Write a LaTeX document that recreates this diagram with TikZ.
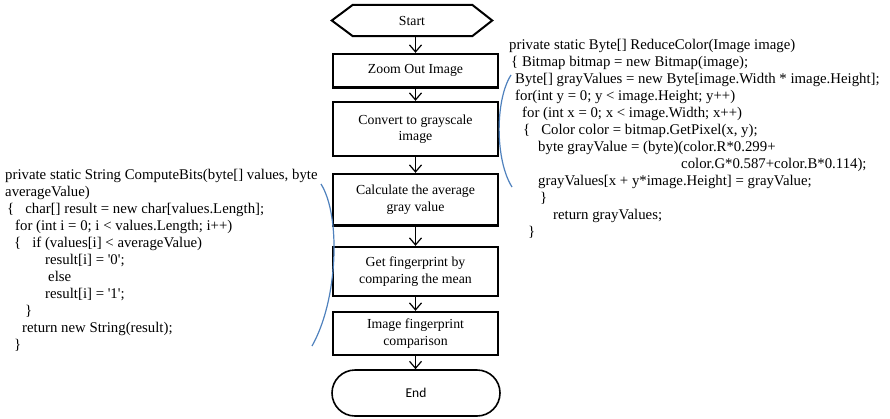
\documentclass[tikz,border=0pt]{standalone}
\usepackage{fontspec}
\setmainfont{Liberation Serif}
\newfontfamily\calibrifont{Carlito}
\usetikzlibrary{arrows.meta,shapes.misc}
\definecolor{bracketblue}{RGB}{79,129,189}
\newcommand\boxfont{\fontsize{13.8}{16.5}\selectfont}
\newcommand\codefont{\fontsize{14.8}{17}\selectfont}
\newcommand\sq{\textquotesingle}
\begin{document}
\begin{tikzpicture}[x=1pt,y=-1pt,
  stepbox/.style={draw, line width=2.4pt, minimum width=165pt, align=center,
                  font=\boxfont, inner sep=0pt},
  codeline/.style={anchor=base west, inner sep=0pt, font=\codefont},
  flow/.style={-{Straight Barb[length=7pt,width=12pt]}, line width=1.2pt},
  bracket/.style={draw=bracketblue, line width=1.2pt}]
\useasboundingbox (0,0) rectangle (890,418);

% start terminal (hexagon drawn around an invisible node)
\node[minimum width=160pt, minimum height=31pt, inner sep=0pt,
      font=\fontsize{13.8}{16}\selectfont] (start) at (412,20.5) {Start};
\draw[line width=2pt, line join=miter]
  (start.west) -- ([xshift=21pt]start.north west) -- ([xshift=-20pt]start.north east)
  -- (start.east) -- ([xshift=-20pt]start.south east) -- ([xshift=21pt]start.south west) -- cycle;

% process steps
\node[stepbox, minimum height=33.5pt] (zoom) at (415.5,70.75) {Zoom Out Image};
\node[stepbox, minimum height=54pt] (gray) at (415.5,129) {Convert to grayscale\\image};
\node[stepbox, minimum height=51.5pt] (avg) at (415.5,199.75) {Calculate the average\\gray value};
\node[stepbox, minimum height=49pt] (bits) at (415.5,271.5) {Get fingerprint by\\comparing the mean};
\node[stepbox, minimum height=43pt] (cmp) at (415.5,333.5) {Image fingerprint\\comparison};
\node[rounded rectangle, draw, line width=1.6pt, minimum width=168pt, minimum height=46pt,
      inner sep=0pt, font=\calibrifont\fontsize{13.5}{16}\selectfont] (end) at (416,393) {End};

% flow arrows
\draw[flow] (zoom.north |- start.south) -- (zoom.north);
\draw[flow] (zoom.south) -- (gray.north);
\draw[flow] (gray.south) -- (avg.north);
\draw[flow] (avg.south) -- (bits.north);
\draw[flow] (bits.south) -- (cmp.north);
\draw[flow] (cmp.south) -- (end.north -| cmp.south);

% ReduceColor listing
\node[codeline] (r1) at (509,49.5) {private static Byte[] ReduceColor(Image image)};
\node[codeline] (r2) at (511,66.5) {\{ Bitmap bitmap = new Bitmap(image);};
\node[codeline] (r3) at (515,83.5) {Byte[] grayValues = new Byte[image.Width * image.Height];};
\node[codeline] (r4) at (515,100.5) {for(int y = 0; y < image.Height; y++)};
\node[codeline] (r5) at (522,117.5) {for (int x = 0; x < image.Width; x++)};
\node[codeline] (r6) at (523,134.5) {\{\hspace{11pt}Color color = bitmap.GetPixel(x, y);};
\node[codeline] (r7) at (538,151.5) {byte grayValue = (byte)(color.R*0.299+};
\node[codeline] (r8) at (681,168.5) {color.G*0.587+color.B*0.114);};
\node[codeline] (r9) at (538,185.5) {grayValues[x + y*image.Height] = grayValue;};
\node[codeline] (r10) at (540,202.5) {\}};
\node[codeline] (r11) at (553,219.5) {return grayValues;};
\node[codeline] (r12) at (528,236.5) {\}};

% ComputeBits listing
\node[codeline] (l1) at (5,179.5) {private static String ComputeBits(byte[] values, byte};
\node[codeline] (l2) at (5,196.5) {averageValue)};
\node[codeline] (l3) at (7,213.5) {\{\hspace{11pt}char[] result = new char[values.Length];};
\node[codeline] (l4) at (15,230.5) {for (int i = 0; i < values.Length; i++)};
\node[codeline] (l5) at (14,247.5) {\{\hspace{11pt}if (values[i] < averageValue)};
\node[codeline] (l6) at (45,264.5) {result[i] = \sq0\sq;};
\node[codeline] (l7) at (48,281.5) {else};
\node[codeline] (l8) at (45,298.5) {result[i] = \sq1\sq;};
\node[codeline] (l9) at (25,315.5) {\}};
\node[codeline] (l10) at (22,332.5) {return new String(result);};
\node[codeline] (l11) at (14,349.5) {\}};

% brackets tying each listing to its step
\draw[bracket] (511,75) .. controls (495,100) and (495,160) .. (512,187);
\draw[bracket] (321,184) .. controls (341,216) and (338,300) .. (312,346);
\end{tikzpicture}
\end{document}
